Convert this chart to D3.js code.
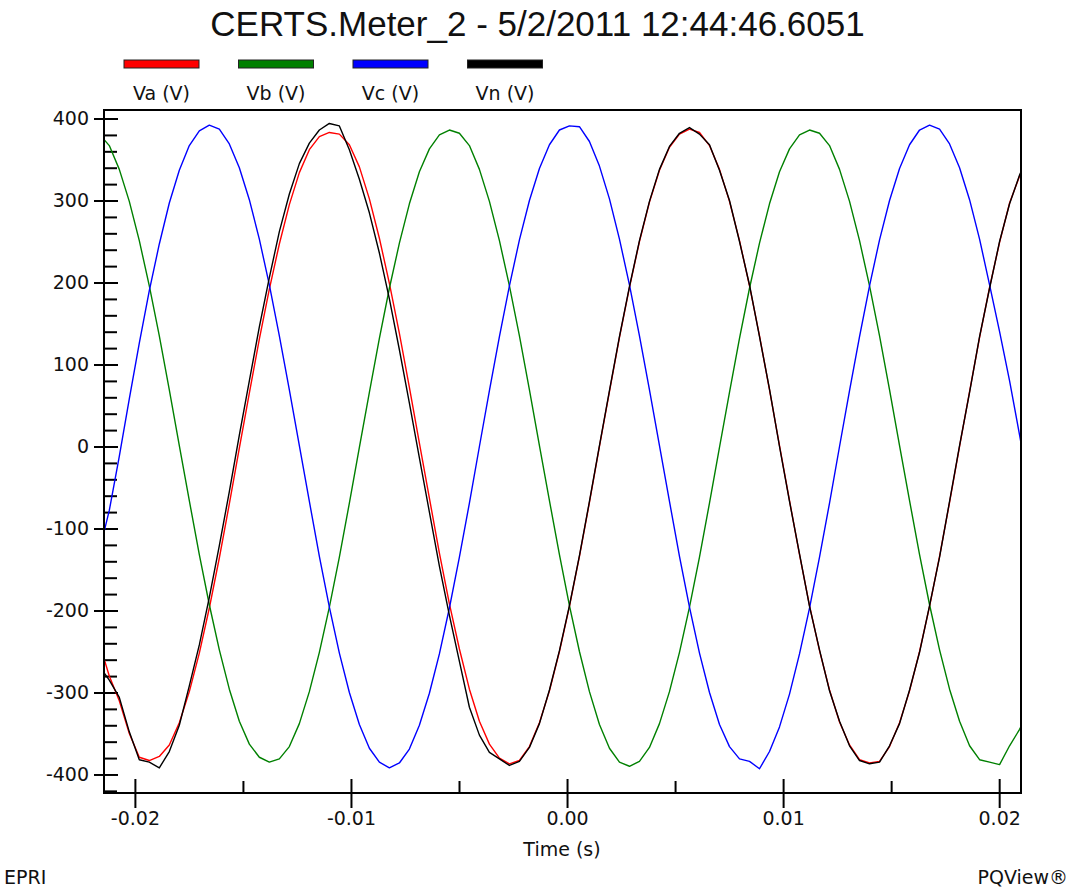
<!DOCTYPE html>
<html lang="en">
<head>
<meta charset="UTF-8">
<title>CERTS.Meter_2 waveform</title>
<script src="https://cdnjs.cloudflare.com/ajax/libs/d3/7.8.5/d3.min.js"></script>
<style>
    body { margin: 0; background: #fff; }
    svg { display: block; }
    .lbl { font-family: "DejaVu Sans", Verdana, sans-serif; font-size: 19px; fill: #111; }
    .tick text { font-family: "DejaVu Sans", Verdana, sans-serif; font-size: 19px; fill: #111; }
    .tick line { stroke: #000; stroke-width: 2px; }
</style>
</head>
<body>
<svg id="chart" width="1073" height="890"></svg>
<script>
// sampled waveform, one sample every 1/2160 s (10 degrees at 60 Hz)
const sampleStart = -0.021648;
const sampleStep = 1 / 2160;

const seriesNames = ["Va (V)", "Vb (V)", "Vc (V)", "Vn (V)"];
const seriesColors = ["#ff0000", "#008000", "#0000ff", "#000000"];

const va = [-240, -280, -310, -350, -379, -383, -378, -364, -337, -299,
    -252, -197, -136, -70, -2, 65, 131, 192, 247, 295,
    334, 362, 378, 383, 381, 368, 341, 302, 254, 199,
    138, 72, 4, -63, -130, -192, -247, -296, -335, -363,
    -380, -387, -383, -366, -337, -298, -250, -195, -134, -68,
    0, 67, 133, 194, 250, 298, 337, 365, 381, 387,
    383, 367, 338, 299, 251, 196, 135, 69, 1, -66,
    -132, -194, -249, -297, -336, -364, -382, -386, -384, -366,
    -337, -298, -250, -195, -134, -68, 0, 67, 133, 194,
    249, 297, 330, 358];

const vb = [381, 367, 338, 299, 251, 196, 135, 69, 1, -66,
    -132, -193, -248, -296, -335, -363, -379, -385, -381, -366,
    -338, -299, -251, -196, -135, -69, -1, 66, 132, 193,
    248, 296, 335, 363, 380, 386, 382, 367, 338, 299,
    251, 196, 135, 69, 1, -66, -132, -194, -250, -299,
    -339, -368, -385, -390, -384, -367, -338, -299, -251, -196,
    -135, -69, -1, 66, 132, 193, 248, 296, 335, 363,
    380, 386, 382, 367, 338, 299, 251, 196, 135, 69,
    1, -66, -132, -193, -248, -296, -335, -365, -382, -385,
    -388, -365, -345, -320];

const vc = [-128, -78, -12, 58, 126, 190, 247, 297, 337, 367,
    385, 392, 387, 369, 340, 301, 253, 197, 135, 69,
    1, -67, -134, -196, -252, -300, -339, -368, -385, -392,
    -386, -369, -340, -301, -253, -197, -135, -69, 0, 68,
    134, 196, 252, 300, 339, 368, 386, 391, 390, 372,
    342, 302, 253, 197, 135, 69, 1, -67, -134, -196,
    -252, -300, -339, -366, -381, -384, -393, -372, -342, -302,
    -253, -197, -135, -69, 0, 68, 134, 196, 252, 300,
    339, 368, 386, 392, 387, 369, 340, 301, 253, 197,
    140, 80, 14, -55];

const vn = [-268, -285, -306, -348, -382, -385, -392, -372, -340, -292,
    -242, -184, -121, -55, 14, 80, 146, 206, 262, 308,
    345, 370, 386, 394, 391, 362, 326, 285, 236, 180,
    118, 53, -14, -80, -146, -206, -262, -318, -352, -373,
    -381, -389, -384, -367, -338, -297, -249, -194, -133, -67,
    1, 68, 134, 195, 251, 299, 338, 366, 382, 389,
    381, 368, 337, 300, 250, 197, 134, 70, 0, -67,
    -131, -195, -248, -298, -335, -365, -383, -387, -385, -365,
    -338, -297, -251, -194, -135, -67, 1, 66, 134, 193,
    250, 296, 331, 359];

const yMajor = [-400, -300, -200, -100, 0, 100, 200, 300, 400];
const xMajor = [-0.02, -0.01, 0, 0.01, 0.02];
const xMinor = [-0.015, -0.005, 0.005, 0.015];

const svg = d3.select("#chart");
const plotLeft = 104, plotRight = 1021, plotTop = 110, plotBottom = 793;

const x = d3.scaleLinear().domain([-0.02143, 0.02101]).range([plotLeft, plotRight]);
const y = d3.scaleLinear().domain([-422.6, 410.4]).range([plotBottom, plotTop]);

const yMinor = d3.range(-420, 411, 20).filter(v => v % 100 !== 0);

// title
svg.append("text")
    .attr("x", 537.5).attr("y", 36)
    .attr("text-anchor", "middle")
    .style("font-family", "'Liberation Sans', Arial, sans-serif")
    .style("font-size", "35px")
    .style("fill", "#111")
    .text("CERTS.Meter_2 - 5/2/2011 12:44:46.6051");

// legend
const legend = svg.append("g").selectAll("g")
    .data(seriesNames)
    .join("g")
    .attr("transform", (d, i) => `translate(${124 + i * 114.5},0)`);
legend.append("rect")
    .attr("x", 0).attr("y", 60).attr("width", 75).attr("height", 8)
    .attr("fill", (d, i) => seriesColors[i])
    .attr("stroke", "#222").attr("stroke-width", 1);
legend.append("text")
    .attr("class", "lbl")
    .attr("x", 37.5).attr("y", 100)
    .attr("text-anchor", "middle")
    .text(d => d);

// axes: outward part with labels, then inward ticks
svg.append("g")
    .attr("transform", `translate(${plotLeft},0)`)
    .call(d3.axisLeft(y).tickValues(yMajor).tickSize(10).tickPadding(5).tickFormat(d => String(d)))
    .call(g => g.select(".domain").remove());
svg.append("g")
    .attr("transform", `translate(${plotLeft},0)`)
    .call(d3.axisRight(y).tickValues(yMajor).tickSize(14).tickFormat(""))
    .call(g => g.select(".domain").remove());
svg.append("g")
    .attr("transform", `translate(${plotLeft},0)`)
    .call(d3.axisRight(y).tickValues(yMinor).tickSize(13).tickFormat(""))
    .call(g => g.select(".domain").remove());

svg.append("g")
    .attr("transform", `translate(0,${plotBottom})`)
    .call(d3.axisBottom(x).tickValues(xMajor).tickSize(15).tickPadding(4).tickFormat(d => d.toFixed(2)))
    .call(g => g.select(".domain").remove());
svg.append("g")
    .attr("transform", `translate(0,${plotBottom})`)
    .call(d3.axisTop(x).tickValues(xMajor).tickSize(14).tickFormat(""))
    .call(g => g.select(".domain").remove());
svg.append("g")
    .attr("transform", `translate(0,${plotBottom})`)
    .call(d3.axisTop(x).tickValues(xMinor).tickSize(12).tickFormat(""))
    .call(g => g.select(".domain").remove());

// waveforms
svg.append("clipPath").attr("id", "plot-clip")
    .append("rect")
    .attr("x", plotLeft).attr("y", plotTop)
    .attr("width", plotRight - plotLeft).attr("height", plotBottom - plotTop);

const line = d3.line()
    .x((d, i) => x(sampleStart + i * sampleStep))
    .y(d => y(d));

const plot = svg.append("g").attr("clip-path", "url(#plot-clip)");
[va, vb, vc, vn].forEach((s, k) => {
    plot.append("path")
        .datum(s)
        .attr("fill", "none")
        .attr("stroke", seriesColors[k])
        .attr("stroke-width", 1.4)
        .attr("stroke-linejoin", "round")
        .attr("d", line);
});

// frame
svg.append("rect")
    .attr("x", plotLeft).attr("y", plotTop)
    .attr("width", plotRight - plotLeft).attr("height", plotBottom - plotTop)
    .attr("fill", "none").attr("stroke", "#000").attr("stroke-width", 2);

svg.append("text").attr("class", "lbl")
    .attr("x", 562).attr("y", 856).attr("text-anchor", "middle")
    .text("Time (s)");
svg.append("text").attr("class", "lbl")
    .attr("x", 4).attr("y", 884)
    .text("EPRI");
svg.append("text").attr("class", "lbl")
    .attr("x", 1068).attr("y", 884).attr("text-anchor", "end")
    .text("PQView®");
</script>
</body>
</html>
